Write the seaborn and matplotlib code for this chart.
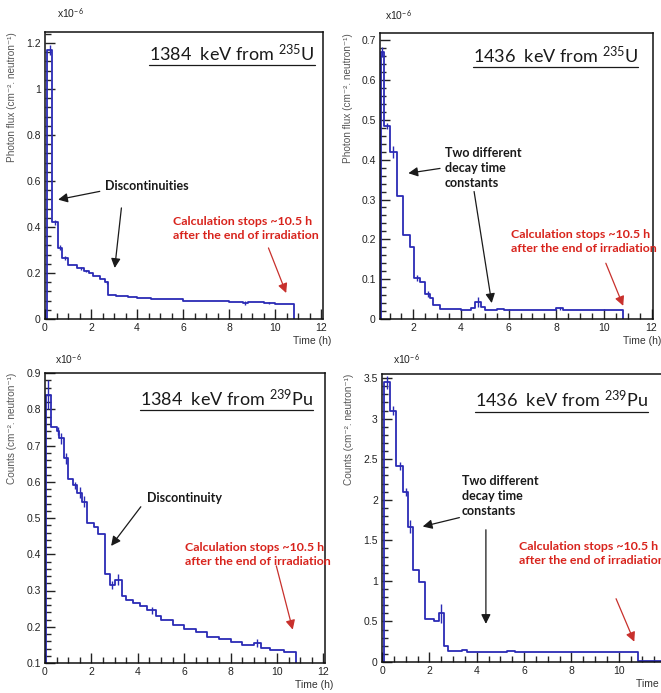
import matplotlib
matplotlib.use('Agg')
import matplotlib.pyplot as plt
import seaborn as sns
import pandas as pd
from matplotlib.ticker import MultipleLocator, FuncFormatter
from matplotlib.lines import Line2D

# ---------------- data (bin edges in hours, values x1e-6) ----------------
edges_u1384 = [0.1, 0.3, 0.55, 0.75, 1.0, 1.4, 1.7, 1.9, 2.1, 2.4, 2.6, 2.75, 3.1, 3.6,
               4.0, 4.6, 5.2, 6.0, 7.0, 8.0, 8.6, 8.8, 9.5, 10.0, 10.8]
flux_u1384 = [1.17, 0.42, 0.31, 0.265, 0.235, 0.22, 0.21, 0.2, 0.185, 0.175, 0.16, 0.105,
              0.1, 0.095, 0.09, 0.088, 0.085, 0.08, 0.077, 0.073, 0.07, 0.072, 0.068, 0.065]
err_u1384 = [0.02, 0.012, 0.01, 0.008, 0.0, 0.006, 0.005, 0.0, 0.0, 0.0, 0.006, 0.0,
             0.0, 0.0, 0.0, 0.0, 0.0, 0.0, 0.0, 0.0, 0.01, 0.0, 0.004, 0.0]

edges_u1436 = [0.63, 0.77, 1.02, 1.3, 1.58, 1.86, 2.02, 2.28, 2.49, 2.7, 2.84, 3.1, 4.0,
               4.4, 4.6, 4.85, 5.0, 5.5, 5.8, 8.0, 8.3, 10.8]
flux_u1436 = [0.67, 0.485, 0.42, 0.31, 0.21, 0.18, 0.103, 0.093, 0.062, 0.052, 0.035, 0.025,
              0.023, 0.027, 0.043, 0.03, 0.023, 0.025, 0.022, 0.027, 0.022]
err_u1436 = [0.012, 0.008, 0.015, 0.0, 0.0, 0.0, 0.008, 0.0, 0.008, 0.0, 0.0, 0.0,
             0.0, 0.0, 0.012, 0.0, 0.0, 0.0, 0.0, 0.004, 0.0]

edges_pu1384 = [0.05, 0.25, 0.5, 0.6, 0.8, 1.0, 1.2, 1.4, 1.6, 1.8, 2.1, 2.3, 2.6, 2.8,
                3.0, 3.3, 3.5, 3.8, 4.1, 4.4, 4.8, 5.0, 5.5, 6.0, 6.5, 7.0, 7.5, 8.0,
                8.5, 9.0, 9.3, 9.7, 10.3, 10.83]
counts_pu1384 = [0.84, 0.75, 0.74, 0.72, 0.665, 0.608, 0.59, 0.57, 0.545, 0.485, 0.475,
                 0.455, 0.345, 0.315, 0.33, 0.285, 0.275, 0.265, 0.258, 0.245, 0.23, 0.22,
                 0.205, 0.195, 0.185, 0.172, 0.165, 0.157, 0.15, 0.155, 0.142, 0.136, 0.13]
err_pu1384 = [0.04, 0.0, 0.01, 0.015, 0.015, 0.0, 0.01, 0.015, 0.015, 0.0, 0.0,
              0.0, 0.0, 0.01, 0.015, 0.0, 0.0, 0.0, 0.0, 0.01, 0.0, 0.0,
              0.0, 0.0, 0.0, 0.0, 0.0, 0.0, 0.0, 0.01, 0.0, 0.0, 0.0]

edges_pu1436 = [0.1, 0.35, 0.6, 0.9, 1.1, 1.3, 1.55, 1.8, 2.2, 2.4, 2.6, 2.8, 3.0, 3.4,
                3.6, 5.3, 5.6, 10.8, 12.5]
counts_pu1436 = [3.45, 3.1, 2.42, 2.1, 1.67, 1.13, 0.98, 0.53, 0.5, 0.6, 0.2, 0.14, 0.13,
                 0.15, 0.12, 0.13, 0.12, 0.01]
err_pu1436 = [0.08, 0.05, 0.05, 0.05, 0.08, 0.0, 0.0, 0.0, 0.0, 0.12, 0.0, 0.0, 0.0,
              0.0, 0.0, 0.0, 0.0, 0.0]

# ---------------- style ----------------
sns.set_theme(style='ticks')
plt.rcParams['font.family'] = ['Liberation Sans', 'DejaVu Sans']
plt.rcParams['mathtext.fontset'] = 'custom'
plt.rcParams['mathtext.rm'] = 'Lato'
plt.rcParams['mathtext.it'] = 'Lato:italic'

LINE = '#2b2bb5'
RED = '#d8231c'
RED_ARROW = '#c8302c'
TXT = '#1a1a1a'

fig = plt.figure(figsize=(6.61, 6.93), dpi=100)
W, H = 661.0, 693.0


def make_ax(left, top, right, bottom):
    return fig.add_axes([left / W, 1 - bottom / H, (right - left) / W, (bottom - top) / H])


def step_frame(edges, values):
    xs = [edges[0]] + list(edges[:-1]) + [edges[-1], edges[-1]]
    ys = [0.0] + list(values) + [values[-1], 0.0]
    return pd.DataFrame({'t': xs, 'v': ys, 'o': range(len(xs))})


def draw_panel(ax, edges, values, errs, xlim, ylim, ymaj, ymin_, ylabel, title, title_xy,
               exp_xy):
    df = step_frame(edges, values)
    sns.lineplot(data=df, x='t', y='v', estimator=None, sort=False, drawstyle='steps-post',
                 color=LINE, lw=1.3, ax=ax)
    centers = [(a + b) / 2 for a, b in zip(edges[:-1], edges[1:])]
    for c, v, e in zip(centers, values, errs):
        if e > 0:
            ax.vlines(c, v - e, v + e, color=LINE, lw=1.0)
    ax.set_xlim(*xlim)
    ax.set_ylim(*ylim)
    ax.xaxis.set_major_locator(MultipleLocator(2))
    ax.xaxis.set_minor_locator(MultipleLocator(0.5))
    ax.yaxis.set_major_locator(MultipleLocator(ymaj))
    ax.yaxis.set_minor_locator(MultipleLocator(ymin_))
    fmt = FuncFormatter(lambda v, p: f'{round(v, 3):g}')
    ax.xaxis.set_major_formatter(fmt)
    ax.yaxis.set_major_formatter(fmt)
    ax.tick_params(which='major', direction='in', length=7, width=1.0, labelsize=7.5,
                   colors='#222222', pad=3, top=False, right=False)
    ax.tick_params(which='minor', direction='in', length=4, width=1.0, top=False, right=False)
    for s in ax.spines.values():
        s.set_visible(True)
        s.set_linewidth(1.1)
        s.set_color('#111111')
    ax.set_xlabel('Time (h)', fontsize=7.5, color='#333333')
    ax.xaxis.set_label_coords(1.03, -0.06)
    ax.xaxis.label.set_ha('right')
    ax.xaxis.label.set_va('top')
    ax.set_ylabel(ylabel, fontsize=7.2, color='#555555', loc='top')
    ax.yaxis.set_label_coords(-0.1, 1.0)
    ax.text(exp_xy[0], exp_xy[1], 'x10$^{-6}$', transform=ax.transAxes, fontsize=7.5,
            color='#222222', ha='left', va='center', family=['Liberation Sans'])
    t = ax.text(title_xy[0], title_xy[1], title, transform=ax.transAxes, fontsize=13,
                family=['Lato', 'DejaVu Sans'], color=TXT, ha='right', va='center')
    return t


def arrow(ax, tail, head, color=TXT):
    ax.annotate('', xy=head, xytext=tail, xycoords='data', textcoords='data',
                arrowprops=dict(arrowstyle='-|>', color=color, lw=0.9, mutation_scale=14,
                                shrinkA=0, shrinkB=0), annotation_clip=False)


def bold(ax, x, y, s, color=TXT, ha='left', size=9):
    ax.text(x, y, s, fontsize=size, fontweight='bold', color=color, ha=ha, va='center',
            family=['Lato', 'DejaVu Sans'], linespacing=1.3, clip_on=False)


calc_txt = 'Calculation stops ~10.5 h\nafter the end of irradiation'
two_txt = 'Two different\ndecay time\nconstants'

titles = []

# ---- top left ----
ax1 = make_ax(45, 32, 323, 319)
titles.append(draw_panel(ax1, edges_u1384, flux_u1384, err_u1384, (0, 12.08), (0, 1.248),
                         0.2, 0.04, 'Photon flux (cm⁻². neutron⁻¹)',
                         '1384  keV from $^{\\mathrm{235}}$U', (0.97, 0.925), (0.043, 1.063)))
bold(ax1, 4.41, 0.577, 'Discontinuities', ha='center')
arrow(ax1, (2.38, 0.555), (0.57, 0.519))
arrow(ax1, (3.32, 0.483), (3.03, 0.222))
bold(ax1, 5.57, 0.393, calc_txt, color=RED, size=8.9)
arrow(ax1, (9.71, 0.309), (10.48, 0.113), color=RED_ARROW)

# ---- top right ----
ax2 = make_ax(380, 33, 653, 319)
titles.append(draw_panel(ax2, edges_u1436, flux_u1436, err_u1436, (0.6, 12.06), (0, 0.718),
                         0.1, 0.02, 'Photon flux (cm⁻². neutron⁻¹)',
                         '1436  keV from $^{\\mathrm{235}}$U', (0.945, 0.922), (0.018, 1.06)))
bold(ax2, 3.33, 0.378, two_txt)
arrow(ax2, (3.12, 0.378), (1.79, 0.366))
arrow(ax2, (4.55, 0.32), (5.29, 0.04))
bold(ax2, 6.1, 0.195, calc_txt, color=RED, size=8.9)
arrow(ax2, (10.08, 0.14), (10.81, 0.033), color=RED_ARROW)

# ---- bottom left ----
ax3 = make_ax(45, 373, 325, 663)
titles.append(draw_panel(ax3, edges_pu1384, counts_pu1384, err_pu1384, (0, 12.07), (0.1, 0.9),
                         0.1, 0.02, 'Counts (cm⁻². neutron⁻¹)',
                         '1384  keV from $^{\\mathrm{239}}$Pu', (0.957, 0.912), (0.036, 1.045)))
bold(ax3, 6.03, 0.555, 'Discontinuity', ha='center')
arrow(ax3, (4.13, 0.531), (2.85, 0.423))
bold(ax3, 6.05, 0.4, calc_txt, color=RED, size=8.9)
arrow(ax3, (9.97, 0.368), (10.68, 0.192), color=RED_ARROW)

# ---- bottom right ----
ax4 = make_ax(382, 374, 666, 662)
titles.append(draw_panel(ax4, edges_pu1436, counts_pu1436, err_pu1436, (0, 12.0), (0, 3.55),
                         0.5, 0.1, 'Counts (cm⁻². neutron⁻¹)',
                         '1436  keV from $^{\\mathrm{239}}$Pu', (0.937, 0.91), (0.039, 1.048)))
bold(ax4, 3.38, 2.05, two_txt)
arrow(ax4, (3.27, 1.78), (1.72, 1.67))
arrow(ax4, (4.39, 1.63), (4.39, 0.47))
bold(ax4, 5.8, 1.34, calc_txt, color=RED, size=8.9)
arrow(ax4, (9.89, 0.78), (10.66, 0.25), color=RED_ARROW)

# underline the panel titles
fig.canvas.draw()
inv = fig.transFigure.inverted()
for t in titles:
    bb = t.get_window_extent()
    (x0, y0), (x1, _) = inv.transform([(bb.x0, bb.y0 - 1.0), (bb.x1, bb.y0)])
    fig.add_artist(Line2D([x0, x1], [y0, y0], transform=fig.transFigure, color=TXT, lw=0.9))

fig.savefig('out.png', dpi=100)
